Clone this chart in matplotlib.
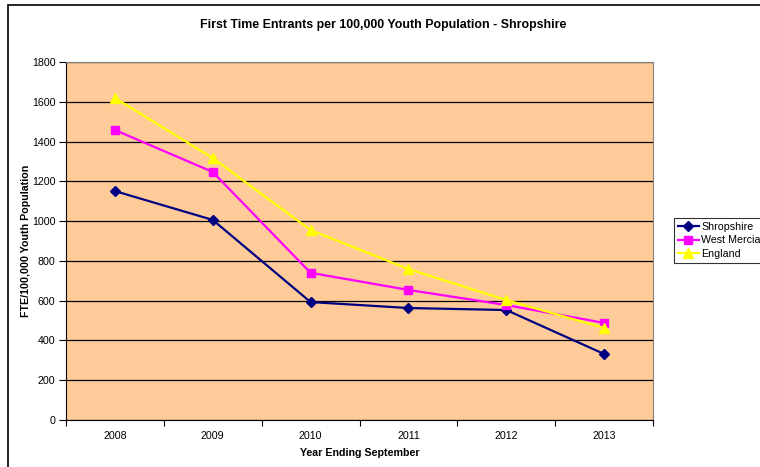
import matplotlib.pyplot as plt
from matplotlib.patches import Rectangle

plt.rcParams['font.family'] = ['Liberation Sans', 'DejaVu Sans']

# data
years = ['2008', '2009', '2010', '2011', '2012', '2013']
shropshire = [1151, 1006, 593, 563, 553, 332]
west_mercia = [1458, 1247, 740, 654, 578, 488]
england = [1619, 1317, 955, 759, 603, 463]

fig = plt.figure(figsize=(7.6, 4.67), dpi=100)
ax = fig.add_axes([66 / 760, 1 - 420 / 467, (653 - 66) / 760, (420 - 62) / 467])

# outer chart frame
fig.patches.append(Rectangle((8 / 760, -0.1), 1.2, 1 - 5 / 467 + 0.1,
                             transform=fig.transFigure, fill=False,
                             edgecolor='black', linewidth=1.2))

x = [i + 0.5 for i in range(len(years))]
ax.set_facecolor('#FFCC99')
ax.plot(x, shropshire, color='#000080', marker='D', markersize=5, linewidth=1.6, label='Shropshire')
ax.plot(x, west_mercia, color='#FF00FF', marker='s', markersize=6, linewidth=1.6, label='West Mercia')
ax.plot(x, england, color='#FFFF00', marker='^', markersize=7, linewidth=1.6, label='England')

ax.set_xlim(0, len(years))
ax.set_ylim(0, 1800)
ax.set_yticks(range(0, 1801, 200))
ax.set_xticks(range(len(years) + 1))
ax.set_xticklabels([])
ax.set_xticks(x, minor=True)
ax.set_xticklabels(years, minor=True)
ax.tick_params(axis='x', which='minor', length=0, labelsize=7.7, pad=8)
ax.tick_params(axis='x', which='major', length=4, direction='out')
ax.tick_params(axis='y', labelsize=7.7, length=5, direction='out', pad=2.5)
ax.yaxis.grid(True, color='black', linewidth=0.9)
ax.set_axisbelow(True)

for side in ['top', 'right']:
    ax.spines[side].set_color('#808080')
for side in ['left', 'bottom']:
    ax.spines[side].set_color('black')

ax.set_xlabel('Year Ending September', fontsize=7.7, fontweight='bold', labelpad=5)
ax.set_ylabel('FTE/100,000 Youth Population', fontsize=7.7, fontweight='bold')
ax.yaxis.set_label_coords(-0.059, 0.5)
fig.text(383 / 760, 1 - 25 / 467, 'First Time Entrants per 100,000 Youth Population - Shropshire',
         ha='center', va='center', fontsize=8.9, fontweight='bold')

leg = fig.legend(loc='upper left', bbox_to_anchor=(674 / 760, 1 - 218 / 467),
                 fontsize=7.7, frameon=True, fancybox=False, edgecolor='black',
                 handlelength=2.0, borderpad=0.35, labelspacing=0.35, handletextpad=0.2,
                 borderaxespad=0)
leg.get_frame().set_linewidth(0.8)

fig.savefig('out.png', dpi=100)
